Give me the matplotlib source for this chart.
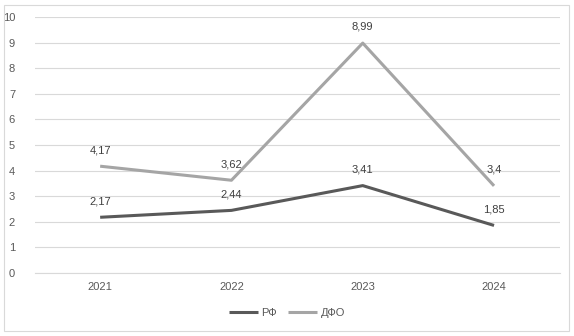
import matplotlib.pyplot as plt
from matplotlib.patches import Rectangle

years = ["2021", "2022", "2023", "2024"]
rf_values = [2.17, 2.44, 3.41, 1.85]
dfo_values = [4.17, 3.62, 8.99, 3.4]
rf_labels = ["2,17", "2,44", "3,41", "1,85"]
dfo_labels = ["4,17", "3,62", "8,99", "3,4"]

W, H = 574, 336
plt.rcParams['font.family'] = ['Liberation Sans', 'DejaVu Sans']

fig = plt.figure(figsize=(W / 100, H / 100), dpi=100)
fig.patches.append(Rectangle((4 / W, 5 / H), 565 / W, 326 / H, transform=fig.transFigure,
                             fill=False, edgecolor='#D9D9D9', linewidth=0.8))

left, right, top, bottom = 34.5, 559.7, 17.3, 272.7
ax = fig.add_axes([left / W, 1 - bottom / H, (right - left) / W, (bottom - top) / H])

x = list(range(len(years)))
ax.plot(x, rf_values, color='#595959', linewidth=2.2, label='РФ', solid_capstyle='butt')
ax.plot(x, dfo_values, color='#A5A5A5', linewidth=2.2, label='ДФО', solid_capstyle='butt')

for xi, v, lab in zip(x, rf_values, rf_labels):
    ax.annotate(lab, (xi, v), xytext=(0, 8), textcoords='offset points',
                ha='center', va='bottom', fontsize=8, color='#404040')
for xi, v, lab in zip(x, dfo_values, dfo_labels):
    ax.annotate(lab, (xi, v), xytext=(0, 8), textcoords='offset points',
                ha='center', va='bottom', fontsize=8, color='#404040')

ax.set_xlim(-0.5, 3.5)
ax.set_ylim(0, 10)
ax.set_yticks(range(0, 11))
ax.set_xticks(x)
ax.set_xticklabels(years)
ax.grid(axis='y', color='#D9D9D9', linewidth=0.8)
ax.set_axisbelow(True)
for s in ['top', 'right', 'left']:
    ax.spines[s].set_visible(False)
ax.spines['bottom'].set_color('#D9D9D9')
ax.spines['bottom'].set_linewidth(0.8)
ax.tick_params(axis='both', length=0, labelsize=8, labelcolor='#595959')
ax.tick_params(axis='y', pad=14)
ax.tick_params(axis='x', pad=7)

ax.legend(loc='center', bbox_to_anchor=(0.5, (H - 313) / H), bbox_transform=fig.transFigure,
          ncol=2, frameon=False, fontsize=8, handlelength=2.6, handletextpad=0.3,
          columnspacing=1.0, labelcolor='#595959')

fig.savefig('out.png', dpi=100)
